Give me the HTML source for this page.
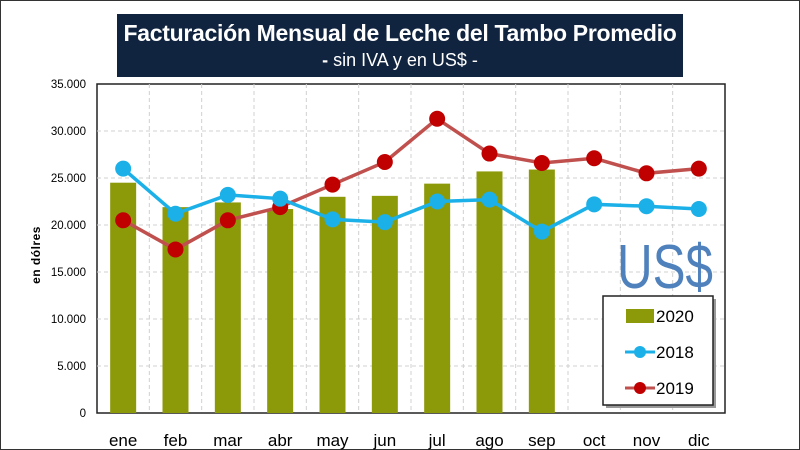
<!DOCTYPE html>
<html><head><meta charset="utf-8"><style>
body{margin:0;width:800px;height:450px;overflow:hidden;background:#fff;font-family:"Liberation Sans",sans-serif}
#frame{position:absolute;left:0;top:0;width:798px;height:448px;border:1px solid #333}
#title{position:absolute;left:117px;top:14px;width:566px;height:63px;background:#10233f;color:#fff;text-align:center}
#t1{font-size:23px;font-weight:bold;margin-top:6px;letter-spacing:-0.3px}
#t2{font-size:18px;margin-top:3px}
</style></head><body>
<div id="frame"></div>
<div id="title">
<div id="t1">Facturación Mensual de Leche del Tambo Promedio</div>
<div id="t2"><b>-</b> sin IVA y en US$ -</div>
</div>
<svg id="c" width="800" height="450" style="position:absolute;left:0;top:0"></svg>
<script>
const months=["ene","feb","mar","abr","may","jun","jul","ago","sep","oct","nov","dic"];
const v2020=[24500,21900,22400,21700,23000,23100,24400,25700,25900];
const v2018=[26000,21200,23200,22800,20600,20300,22500,22700,19300,22200,22000,21700];
const v2019=[20500,17400,20500,21900,24300,26700,31300,27600,26600,27100,25500,26000];
const yTicks=[0,5000,10000,15000,20000,25000,30000,35000];
const yLabels=["0","5.000","10.000","15.000","20.000","25.000","30.000","35.000"];
const L=97,R=725,T=84,B=413,ns="http://www.w3.org/2000/svg",svg=document.getElementById('c');
const bw=(R-L)/months.length;
const x=i=>L+bw*(i+0.5), y=v=>B-(v/35000)*(B-T);
function mk(t,a,p){const e=document.createElementNS(ns,t);for(const k in a)e.setAttribute(k,a[k]);(p||svg).appendChild(e);return e;}
let e=mk('rect',{x:L,y:T,width:R-L,height:B-T,fill:'#fff',stroke:'#222','stroke-width':1.5});


yTicks.forEach((t,i)=>{
 if(t>0&&t<35000){let g=mk('line',{x1:L,x2:R,y1:y(t),y2:y(t),stroke:'#d0d0d0','stroke-dasharray':'4 3'});
 
 }
 let l=mk('text',{x:86,y:y(t)+4,'text-anchor':'end','font-size':11.5,fill:'#000'});l.textContent=yLabels[i];
 
 
});
months.forEach((m,i)=>{
 if(i>0){let g=mk('line',{x1:L+bw*i,x2:L+bw*i,y1:T,y2:B,stroke:'#d0d0d0','stroke-dasharray':'4 3'});
 
 }
 let l=mk('text',{x:x(i),y:446,'text-anchor':'middle','font-size':17,fill:'#000'});l.textContent=m;
 
 
});
let yt=mk('text',{x:0,y:0,transform:'translate(40,255) rotate(-90)','text-anchor':'middle','font-size':12,'font-weight':'bold',fill:'#000','letter-spacing':'0.5'});
yt.textContent='en dólres';


v2020.forEach((v,i)=>{let b=mk('rect',{x:x(i)-13,y:y(v),width:26,height:B-y(v),fill:'#8c9a0a'});
 
 });
function series(arr,col,lc,name){
 let p=mk('polyline',{points:arr.map((v,i)=>x(i)+','+y(v)).join(' '),fill:'none',stroke:lc,'stroke-width':3.5});
 
 
 arr.forEach((v,i)=>{let c=mk('circle',{cx:x(i),cy:y(v),r:8,fill:col});
 
 });
}
series(v2019,'#c00000','#c0504d','2019');
series(v2018,'#1cb0e8','#1cb0e8','2018');
let us=mk('text',{x:617,y:288,'font-size':62,fill:'#4f81bd',textLength:96,lengthAdjust:'spacingAndGlyphs'});us.textContent='US$';


mk('rect',{x:606,y:299,width:110,height:109,fill:'#999'});
let lg=mk('rect',{x:603,y:296,width:110,height:109,fill:'#fff',stroke:'#222','stroke-width':1.5});


let r=mk('rect',{x:626,y:309,width:28,height:14,fill:'#8c9a0a'});


[['2020',322],['2018',358],['2019',394]].forEach(([t,yy])=>{let l=mk('text',{x:656,y:yy,'font-size':17,fill:'#000'});l.textContent=t;
 
 });
[['#1cb0e8','#1cb0e8',352],['#c0504d','#c00000',388]].forEach(([lc,cc,yy])=>{
 mk('line',{x1:625,x2:655,y1:yy,y2:yy,stroke:lc,'stroke-width':3});
 mk('circle',{cx:640,cy:yy,r:6,fill:cc});});
</script>
</body></html>
